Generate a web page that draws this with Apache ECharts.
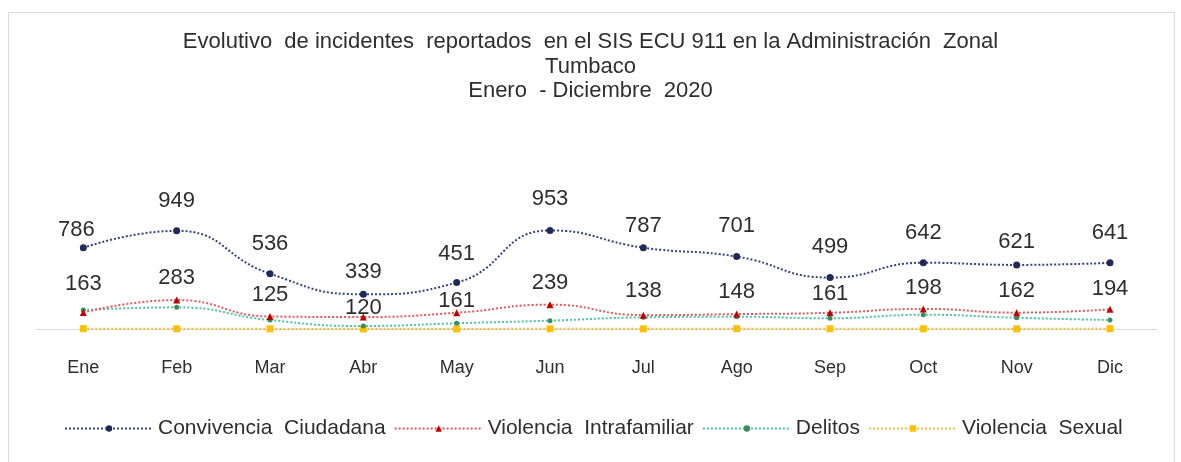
<!DOCTYPE html>
<html>
<head>
<meta charset="utf-8">
<script src="https://cdn.jsdelivr.net/npm/echarts@6/dist/echarts.min.js"></script>
<style>
html,body{margin:0;padding:0;background:#fff;}
#chart{width:1181px;height:462px;}
</style>
</head>
<body>
<div id="chart"></div>
<script>
// ---- data ----
const categories = ['Ene','Feb','Mar','Abr','May','Jun','Jul','Ago','Sep','Oct','Nov','Dic'];
const convivencia = [786, 949, 536, 339, 451, 953, 787, 701, 499, 642, 621, 641];
const intrafamiliar = [163, 283, 125, 120, 161, 239, 138, 148, 161, 198, 162, 194];
const delitos = [187, 213, 91, 34, 60, 85, 117, 123, 108, 142, 113, 91];
const sexual = [8, 7, 6, 6, 5, 7, 6, 8, 7, 7, 6, 8];
const seriesNames = ['Convivencia  Ciudadana', 'Violencia  Intrafamiliar', 'Delitos', 'Violencia  Sexual'];
const titleLines = ['Evolutivo  de incidentes  reportados  en el SIS ECU 911 en la Administración  Zonal', 'Tumbaco', 'Enero  - Diciembre  2020'];

// ---- label layout (pixel nudges of data labels above their points) ----
const convLabelGap = [18, 30, 30, 22, 29, 31, 22, 31, 31, 30, 23, 30];
const convLabelDx  = [-7, 0, 0, 0, 0, 0, 0, 0, 0, 0, 0, 0];
const intraLabelGap = [29, 22, 22, 9, 12, 22, 24, 22, 19, 21, 22, 20];

const FONT = "'Liberation Sans', Arial, sans-serif";

function labeled(values, gaps, dxs) {
  return values.map((v, i) => ({
    value: v,
    label: { offset: [dxs ? dxs[i] : 0, -gaps[i]] }
  }));
}

const baseLabel = {
  show: true,
  position: ['50%', '50%'],
  align: 'center',
  verticalAlign: 'middle',
  fontSize: 22,
  fontFamily: FONT,
  color: '#2e2e2e'
};

const chart = echarts.init(document.getElementById('chart'), null, { renderer: 'canvas' });
chart.setOption({
  animation: false,
  backgroundColor: '#ffffff',
  textStyle: { fontFamily: FONT },
  graphic: [{
    type: 'rect',
    shape: { x: 8.5, y: 12.5, width: 1166, height: 470 },
    style: { fill: 'none', stroke: '#d9d9d9', lineWidth: 1 },
    silent: true
  }],
  title: {
    text: titleLines.join('\n'),
    left: 'center',
    top: 25,
    textStyle: {
      fontSize: 22,
      fontWeight: 'normal',
      color: '#2e2e2e',
      fontFamily: FONT,
      lineHeight: 24.5
    }
  },
  legend: {
    left: 59,
    top: 413,
    itemWidth: 88,
    itemHeight: 8,
    itemGap: 8,
    textStyle: { fontSize: 21, color: '#2e2e2e', fontFamily: FONT },
    data: seriesNames
  },
  grid: { left: 36.67, width: 1120, top: 173.5, height: 156 },
  xAxis: {
    type: 'category',
    data: categories,
    boundaryGap: true,
    axisLine: { lineStyle: { color: '#d9d9d9', width: 1 } },
    axisTick: { show: false },
    axisLabel: { fontSize: 18, color: '#2e2e2e', margin: 30, fontFamily: FONT }
  },
  yAxis: {
    type: 'value',
    min: 0,
    max: 1500,
    show: false,
    splitLine: { show: false }
  },
  series: [
    {
      name: seriesNames[0],
      type: 'line',
      smooth: true,
      symbol: 'circle',
      symbolSize: 7,
      data: labeled(convivencia, convLabelGap, convLabelDx),
      itemStyle: { color: '#1f2a5a' },
      lineStyle: { type: 'dotted', width: 2, color: '#34447a' },
      label: baseLabel,
      z: 5
    },
    {
      name: seriesNames[1],
      type: 'line',
      smooth: true,
      symbol: 'triangle',
      symbolSize: 7,
      data: labeled(intrafamiliar, intraLabelGap),
      itemStyle: { color: '#c00000' },
      lineStyle: { type: 'dotted', width: 2, color: '#e05a5a' },
      label: baseLabel,
      z: 4
    },
    {
      name: seriesNames[2],
      type: 'line',
      smooth: true,
      symbol: 'circle',
      symbolSize: 5,
      data: delitos,
      itemStyle: { color: '#3d8b5e' },
      lineStyle: { type: 'dotted', width: 2, color: '#4fc3a1' },
      z: 3
    },
    {
      name: seriesNames[3],
      type: 'line',
      smooth: true,
      symbol: 'rect',
      symbolSize: 7,
      data: sexual,
      itemStyle: { color: '#ffc000' },
      lineStyle: { type: 'dotted', width: 2, color: '#f5b940' },
      z: 2
    }
  ]
});
</script>
</body>
</html>
